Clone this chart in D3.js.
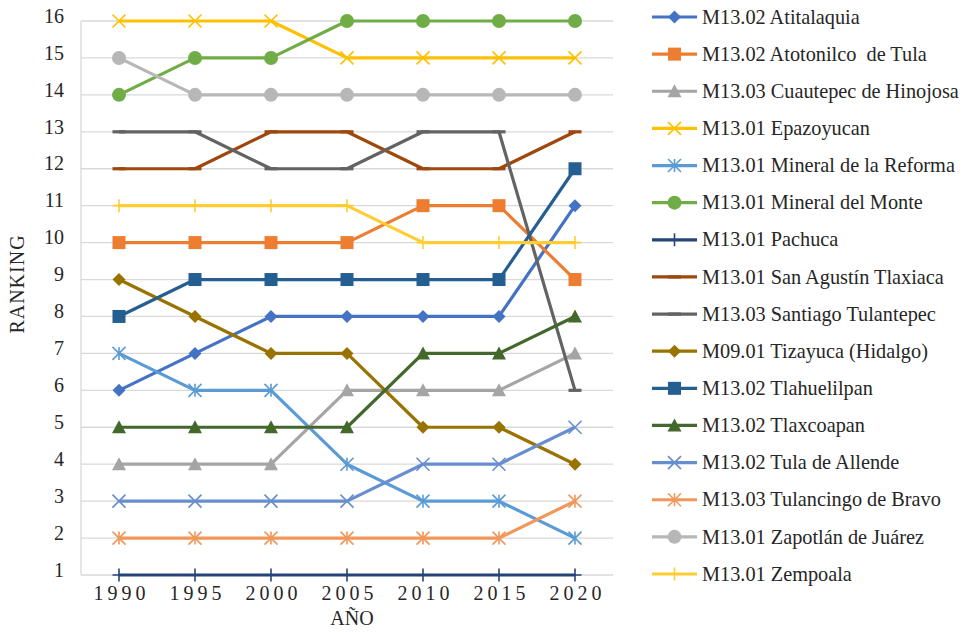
<!DOCTYPE html>
<html>
<head>
<meta charset="utf-8">
<script src="https://cdn.jsdelivr.net/npm/d3@7"></script>
<style>
  html, body { margin: 0; padding: 0; background: #fff; }
  svg { display: block; }
  svg text { font-family: "Liberation Serif", "DejaVu Serif", serif; fill: #262626; }
</style>
</head>
<body>
<svg id="chart" width="969" height="632"></svg>
<script>
// Ranking years
const years = ["1990", "1995", "2000", "2005", "2010", "2015", "2020"];
const rankTicks = [1,2,3,4,5,6,7,8,9,10,11,12,13,14,15,16];

// Municipality names (legend order)
const names = [
  "M13.02 Atitalaquia",
  "M13.02 Atotonilco  de Tula",
  "M13.03 Cuautepec de Hinojosa",
  "M13.01 Epazoyucan",
  "M13.01 Mineral de la Reforma",
  "M13.01 Mineral del Monte",
  "M13.01 Pachuca",
  "M13.01 San Agustín Tlaxiaca",
  "M13.03 Santiago Tulantepec",
  "M09.01 Tizayuca (Hidalgo)",
  "M13.02 Tlahuelilpan",
  "M13.02 Tlaxcoapan",
  "M13.02 Tula de Allende",
  "M13.03 Tulancingo de Bravo",
  "M13.01 Zapotlán de Juárez",
  "M13.01 Zempoala"
];

// Ranking per municipality, one value per year
const atitalaquia   = [6, 7, 8, 8, 8, 8, 11];
const atotonilco    = [10, 10, 10, 10, 11, 11, 9];
const cuautepec     = [4, 4, 4, 6, 6, 6, 7];
const epazoyucan    = [16, 16, 16, 15, 15, 15, 15];
const mineralRef    = [7, 6, 6, 4, 3, 3, 2];
const mineralMonte  = [14, 15, 15, 16, 16, 16, 16];
const pachuca       = [1, 1, 1, 1, 1, 1, 1];
const sanAgustin    = [12, 12, 13, 13, 12, 12, 13];
const santiago      = [13, 13, 12, 12, 13, 13, 6];
const tizayuca      = [9, 8, 7, 7, 5, 5, 4];
const tlahuelilpan  = [8, 9, 9, 9, 9, 9, 12];
const tlaxcoapan    = [5, 5, 5, 5, 7, 7, 8];
const tulaAllende   = [3, 3, 3, 3, 4, 4, 5];
const tulancingo    = [2, 2, 2, 2, 2, 2, 3];
const zapotlan      = [15, 14, 14, 14, 14, 14, 14];
const zempoala      = [11, 11, 11, 11, 10, 10, 10];

const values = [atitalaquia, atotonilco, cuautepec, epazoyucan, mineralRef, mineralMonte,
  pachuca, sanAgustin, santiago, tizayuca, tlahuelilpan, tlaxcoapan, tulaAllende,
  tulancingo, zapotlan, zempoala];

const colors = ["#4472C4", "#ED7D31", "#A5A5A5", "#FFC000", "#5B9BD5", "#70AD47",
  "#264478", "#9E480E", "#636363", "#997300", "#255E91", "#43682B", "#698ED0",
  "#F1975A", "#B7B7B7", "#FFCD33"];
const markers = ["diamond", "square", "triangle", "x", "star", "circle",
  "plus", "dash", "dash", "diamond", "square", "triangle", "x", "star", "circle", "plus"];

const series = names.map((n, i) => ({ name: n, values: values[i], color: colors[i], marker: markers[i] }));

const FONT = '"Liberation Serif", "DejaVu Serif", serif';
const svg = d3.select("#chart");
const plot = { left: 81, right: 613, top: 21, bottom: 575 };

const x = d3.scalePoint().domain(years).range([plot.left, plot.right]).padding(0.5);
const y = d3.scaleLinear().domain([1, 16]).range([plot.bottom, plot.top]);

// Horizontal gridlines
svg.append("g")
  .selectAll("line")
  .data(rankTicks)
  .join("line")
  .attr("x1", plot.left).attr("x2", plot.right)
  .attr("y1", d => y(d)).attr("y2", d => y(d))
  .attr("stroke", "#D9D9D9").attr("stroke-width", 1.3);

// Y axis line
svg.append("line")
  .attr("x1", plot.left).attr("x2", plot.left)
  .attr("y1", plot.top).attr("y2", plot.bottom)
  .attr("stroke", "#D9D9D9").attr("stroke-width", 1.3);

// Y axis labels
const yAxis = d3.axisLeft(y).tickValues(rankTicks).tickSize(0).tickPadding(17);
const gy = svg.append("g").attr("transform", `translate(${plot.left},0)`).call(yAxis);
gy.select(".domain").remove();
gy.selectAll("text")
  .style("font-family", FONT).style("font-size", "20px")
  .attr("fill", "#262626").attr("dy", "0.06em");

// X axis labels
const xAxis = d3.axisBottom(x).tickSize(0).tickPadding(11);
const gx = svg.append("g").attr("transform", `translate(0,${plot.bottom})`).call(xAxis);
gx.select(".domain").remove();
gx.selectAll("text")
  .style("font-family", FONT).style("font-size", "20px").style("letter-spacing", "4px")
  .attr("fill", "#262626").attr("dx", "2px");

// Axis titles
svg.append("text").attr("x", 352).attr("y", 625)
  .attr("text-anchor", "middle").style("font-family", FONT).style("font-size", "20px").text("AÑO");
svg.append("text")
  .attr("transform", "translate(24,284) rotate(-90)")
  .attr("text-anchor", "middle").style("font-family", FONT).style("font-size", "20px")
  .style("letter-spacing", "1px").text("RANKING");

// Marker drawing
function drawMarker(g, type, color, cx, cy) {
  const s = 6.5;
  switch (type) {
    case "diamond":
      g.append("path").attr("d", `M${cx},${cy - s}L${cx + s},${cy}L${cx},${cy + s}L${cx - s},${cy}Z`).attr("fill", color);
      break;
    case "square":
      g.append("rect").attr("x", cx - s).attr("y", cy - s).attr("width", 2 * s).attr("height", 2 * s).attr("fill", color);
      break;
    case "triangle":
      g.append("path").attr("d", `M${cx},${cy - s - 0.5}L${cx + s + 0.5},${cy + s - 0.5}L${cx - s - 0.5},${cy + s - 0.5}Z`).attr("fill", color);
      break;
    case "circle":
      g.append("circle").attr("cx", cx).attr("cy", cy).attr("r", s + 0.5).attr("fill", color);
      break;
    case "x":
      g.append("path").attr("d", `M${cx - s},${cy - s}L${cx + s},${cy + s}M${cx - s},${cy + s}L${cx + s},${cy - s}`)
        .attr("stroke", color).attr("stroke-width", 1.6).attr("fill", "none");
      break;
    case "star":
      g.append("path").attr("d", `M${cx - s},${cy - s}L${cx + s},${cy + s}M${cx - s},${cy + s}L${cx + s},${cy - s}M${cx},${cy - s}L${cx},${cy + s}`)
        .attr("stroke", color).attr("stroke-width", 1.6).attr("fill", "none");
      break;
    case "plus":
      g.append("path").attr("d", `M${cx - s},${cy}L${cx + s},${cy}M${cx},${cy - s}L${cx},${cy + s}`)
        .attr("stroke", color).attr("stroke-width", 1.6).attr("fill", "none");
      break;
    case "dash":
      g.append("path").attr("d", `M${cx - s},${cy}L${cx + s},${cy}`)
        .attr("stroke", color).attr("stroke-width", 3.2).attr("fill", "none");
      break;
  }
}

const line = d3.line().x((d, i) => x(years[i])).y(d => y(d));

const gLines = svg.append("g");
series.forEach(s => {
  const g = gLines.append("g");
  g.append("path").datum(s.values).attr("d", line)
    .attr("fill", "none").attr("stroke", s.color).attr("stroke-width", 3.2)
    .attr("stroke-linejoin", "round");
  s.values.forEach((v, i) => drawMarker(g, s.marker, s.color, x(years[i]), y(v)));
});

// Legend
const legend = svg.append("g");
const legY = d3.scalePoint().domain(names).range([17, 574]);
series.forEach(s => {
  const cy = legY(s.name);
  const g = legend.append("g");
  g.append("line").attr("x1", 652).attr("x2", 697).attr("y1", cy).attr("y2", cy)
    .attr("stroke", s.color).attr("stroke-width", 3.2);
  drawMarker(g, s.marker, s.color, 674.5, cy);
  g.append("text").attr("x", 702).attr("y", cy).attr("dy", "0.33em")
    .style("font-family", FONT).style("font-size", "20.3px").style("white-space", "pre").text(s.name);
});
</script>
</body>
</html>
